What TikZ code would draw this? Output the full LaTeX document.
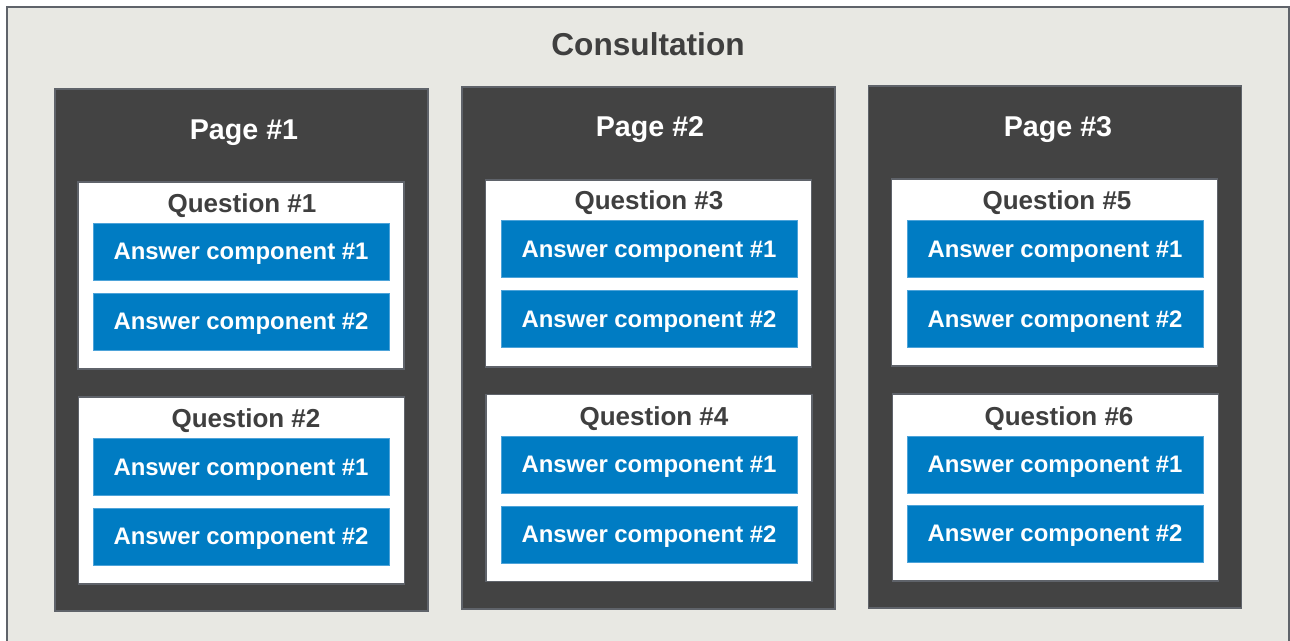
\documentclass[tikz,border=0pt]{standalone}
\usepackage{fontspec}
\setmainfont{Liberation Sans}
\usepackage{tikz}

\definecolor{consultbg}{HTML}{E8E8E3}
\definecolor{framegray}{HTML}{5F636A}
\definecolor{pagegray}{HTML}{434343}
\definecolor{qtext}{HTML}{3F3F3F}
\definecolor{answerblue}{HTML}{007CC3}
\definecolor{answeredge}{HTML}{4DA3D9}

\begin{document}
\begin{tikzpicture}[
    box/.style={rectangle,inner sep=0pt},
    consult/.style={box,fill=consultbg,draw=framegray,line width=1.1pt,minimum width=25.64cm,minimum height=13.06cm},
    page/.style={box,fill=pagegray,draw=framegray,line width=0.8pt,minimum width=7.46cm,minimum height=10.44cm},
    question/.style={box,fill=white,draw=framegray,line width=0.8pt,minimum width=6.52cm,minimum height=3.74cm},
    answer/.style={box,fill=answerblue,draw=answeredge,line width=0.4pt,minimum width=5.92cm,minimum height=1.14cm,
        text=white,text depth=0pt,font=\fontsize{13.6}{15}\selectfont\bfseries},
    maintitle/.style={text=qtext,text depth=0pt,font=\fontsize{18}{20}\selectfont\bfseries},
    pagetitle/.style={text=white,text depth=0pt,font=\fontsize{16.3}{18}\selectfont\bfseries},
    qtitle/.style={text=qtext,text depth=0pt,font=\fontsize{14.8}{16}\selectfont\bfseries}]
    \useasboundingbox (0,0) rectangle (25.8,-12.82);
    \begin{scope}
    \clip (0,0) rectangle (25.8,-12.82);
    \node[consult] (consult) at (12.96,-6.67) {};
    \end{scope}
    \node[maintitle] (ctitle) at (12.96,-0.88) {Consultation};

    % Page 1
    \node[page] (p1) at (4.83,-7.00) {};
    \node[pagetitle] (p1t) at (4.88,-2.60) {Page \#1};
    \node[question] (q1) at (4.82,-5.51) {};
    \node[qtitle] (q1t) at (4.84,-4.06) {Question \#1};
    \node[answer] (q1a1) at (4.82,-5.03) {Answer component \#1};
    \node[answer] (q1a2) at (4.82,-6.43) {Answer component \#2};
    \node[question] (q2) at (4.83,-9.81) {};
    \node[qtitle] (q2t) at (4.92,-8.36) {Question \#2};
    \node[answer] (q2a1) at (4.82,-9.34) {Answer component \#1};
    \node[answer] (q2a2) at (4.82,-10.73) {Answer component \#2};

    % Page 2
    \node[page] (p2) at (12.97,-6.96) {};
    \node[pagetitle] (p2t) at (13.00,-2.54) {Page \#2};
    \node[question] (q3) at (12.97,-5.47) {};
    \node[qtitle] (q3t) at (12.98,-4.00) {Question \#3};
    \node[answer] (q3a1) at (12.98,-4.98) {Answer component \#1};
    \node[answer] (q3a2) at (12.98,-6.38) {Answer component \#2};
    \node[question] (q4) at (12.98,-9.76) {};
    \node[qtitle] (q4t) at (13.08,-8.32) {Question \#4};
    \node[answer] (q4a1) at (12.98,-9.29) {Answer component \#1};
    \node[answer] (q4a2) at (12.98,-10.69) {Answer component \#2};

    % Page 3
    \node[page] (p3) at (21.10,-6.94) {};
    \node[pagetitle] (p3t) at (21.16,-2.54) {Page \#3};
    \node[question] (q5) at (21.09,-5.45) {};
    \node[qtitle] (q5t) at (21.14,-4.00) {Question \#5};
    \node[answer] (q5a1) at (21.10,-4.98) {Answer component \#1};
    \node[answer] (q5a2) at (21.10,-6.38) {Answer component \#2};
    \node[question] (q6) at (21.11,-9.75) {};
    \node[qtitle] (q6t) at (21.18,-8.32) {Question \#6};
    \node[answer] (q6a1) at (21.10,-9.29) {Answer component \#1};
    \node[answer] (q6a2) at (21.10,-10.67) {Answer component \#2};
\end{tikzpicture}
\end{document}
